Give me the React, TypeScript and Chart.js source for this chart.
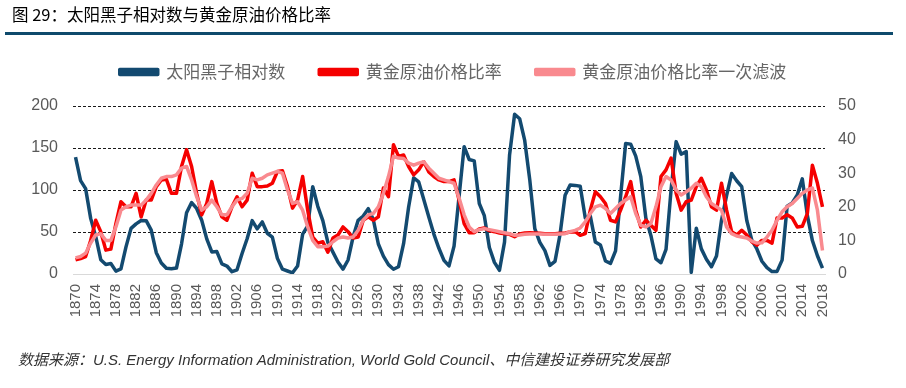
import React, { useEffect, useRef } from 'react';
import { Chart, registerables } from 'chart.js';

Chart.register(...registerables);

const firstYear = 1870;
const lastYear = 2018;
const years: string[] = [];
for (let y = firstYear; y <= lastYear; y++) years.push(String(y));

// 太阳黑子相对数 (left axis)
const sunspots = [
  139.1, 111.2, 101.6, 66.2, 44.7, 17.0, 11.3, 12.4, 3.4, 6.0,
  32.3, 54.3, 59.7, 63.7, 63.5, 52.2, 25.4, 13.1, 6.8, 6.3,
  7.1, 35.6, 73.0, 85.1, 78.0, 64.0, 41.8, 26.2, 26.7, 12.1,
  9.5, 2.7, 5.0, 24.4, 42.0, 63.5, 53.8, 62.0, 48.5, 43.9,
  18.6, 5.7, 3.6, 1.4, 9.6, 47.4, 57.1, 103.9, 80.6, 63.6,
  37.6, 26.1, 14.2, 5.8, 16.7, 44.3, 63.9, 69.0, 77.8, 64.9,
  35.7, 21.2, 11.1, 5.7, 8.7, 36.1, 79.7, 114.4, 109.6, 88.8,
  67.8, 47.5, 30.6, 16.3, 9.6, 33.2, 92.6, 151.6, 136.3, 134.7,
  83.9, 69.4, 31.5, 13.9, 4.4, 38.0, 141.7, 190.2, 184.8, 159.0,
  112.3, 53.9, 37.6, 27.9, 10.2, 15.1, 47.0, 93.8, 105.9, 105.5,
  104.5, 66.6, 68.9, 38.0, 34.5, 15.5, 12.6, 27.5, 92.5, 155.4,
  154.6, 140.4, 115.9, 66.6, 45.9, 17.9, 13.4, 29.4, 100.2, 157.6,
  142.6, 145.7, 2, 54.6, 29.9, 17.5, 8.6, 21.5, 64.3, 93.3,
  119.6, 111.0, 104.0, 63.7, 40.4, 29.8, 15.2, 7.5, 2.9, 3.1,
  16.5, 80.8, 84.5, 94.0, 113.3, 69.8, 39.8, 21.7, 7.0,
];

// 黄金原油价格比率 (right axis)
const goldOilRatio = [
  4.2, 4.6, 5.2, 10, 16, 12.6, 7.1, 7.4, 15, 21.5,
  20, 20, 24, 17, 22, 22, 26, 28, 28.2, 24,
  24, 32, 37, 32, 24, 17.6, 21, 27.5, 21, 17,
  16, 20, 23, 20, 22, 30, 26, 26, 26.2, 27,
  30.5, 30.7, 26, 19.6, 22, 29, 19, 11, 9.2, 9.6,
  6.5, 10.7, 11.6, 14, 12.6, 10.7, 11, 16, 17, 16,
  17, 25.6, 23, 38.5, 35, 35.4, 32, 29.5, 31, 33.4,
  30.4, 29, 28, 27.5, 27.5, 28, 22, 15, 12.3, 12.3,
  13.4, 13.7, 12.9, 12.6, 12.2, 12, 11.8, 11.1, 11.9, 12.2,
  12.3, 12.2, 12.1, 12, 12, 12, 12.1, 12.2, 12.5, 12.6,
  11.5, 12, 19, 24.5, 23, 21, 16, 15.5, 19, 23,
  27.5, 19, 14, 16, 14.5, 13, 29, 31, 34.5, 24,
  19, 21.5, 22, 26, 28.5, 25, 20, 19, 27, 19,
  12.6, 11.6, 13, 11.6, 9.6, 8.6, 10, 10, 9.2, 16.7,
  16.7, 17.6, 16.7, 14, 14.2, 18, 32.4, 27, 20,
];

// 黄金原油价格比率一次滤波 (right axis)
const goldOilRatioFiltered = [
  4.8, 5.2, 6.2, 9.2, 11.6, 12, 10, 10, 14, 19,
  20, 20.5, 20.5, 20.5, 22, 24, 26.5, 28.5, 29, 29,
  29.5, 31.5, 32, 28, 23, 19, 20, 22, 20, 17.6,
  17.6, 20, 22, 22.5, 24, 28.5, 28, 28.5, 29.5, 30,
  30.5, 30, 25, 21, 21.5, 19, 14, 10, 8.1, 8.1,
  8.3, 9.6, 10.7, 11, 10.7, 11, 13, 16, 17.6, 18,
  20, 24, 29, 35, 34.5, 34.4, 33, 32.4, 33, 33.4,
  31.5, 30, 28.5, 28, 27.5, 27, 22.6, 17.6, 14, 12.6,
  13.2, 13.5, 13.2, 12.9, 12.6, 12.3, 12, 11.5, 11.6, 11.8,
  11.9, 11.9, 11.9, 11.8, 11.8, 11.8, 11.9, 12, 12.6, 13,
  13.7, 15.5, 18, 20, 20.5, 19.5, 18, 19.5, 21, 22,
  23, 18, 14.5, 14, 15, 20, 26, 29, 28, 25,
  23.5, 24.5, 25.5, 27, 26, 23, 21, 20, 19, 14,
  12, 11.3, 11, 10.7, 9.8, 9.2, 9.3, 11, 13, 16,
  18.5, 20, 21, 22.5, 24, 25, 25.6, 19, 7,
];

const seriesNames = ['太阳黑子相对数', '黄金原油价格比率', '黄金原油价格比率一次滤波'];
const leftAxis = { min: 0, max: 200, step: 50 };
const rightAxis = { min: 0, max: 50, step: 10 };
const xLabelEvery = 4;

const BLUE = '#134a70';
const RED = '#f50000';
const PINK = '#f98a8f';
const GRAY_TEXT = '#595959';

export default function App() {
  const canvasRef = useRef<HTMLCanvasElement>(null);

  useEffect(() => {
    const canvas = canvasRef.current;
    if (!canvas) return;
    const chart = new Chart(canvas, {
      type: 'line',
      data: {
        labels: years,
        datasets: [
          {
            label: seriesNames[0],
            data: sunspots,
            yAxisID: 'y',
            borderColor: BLUE,
            backgroundColor: BLUE,
            borderWidth: 3.5,
            pointRadius: 0,
            tension: 0,
            borderJoinStyle: 'round',
            order: 3,
          },
          {
            label: seriesNames[1],
            data: goldOilRatio,
            yAxisID: 'y1',
            borderColor: RED,
            backgroundColor: RED,
            borderWidth: 3.5,
            pointRadius: 0,
            tension: 0,
            borderJoinStyle: 'round',
            order: 2,
          },
          {
            label: seriesNames[2],
            data: goldOilRatioFiltered,
            yAxisID: 'y1',
            borderColor: PINK,
            backgroundColor: PINK,
            borderWidth: 3.5,
            pointRadius: 0,
            tension: 0,
            borderJoinStyle: 'round',
            order: 1,
          },
        ],
      },
      options: {
        responsive: false,
        animation: false,
        events: [],
        layout: { padding: { top: 29.5, left: 0, right: 0, bottom: 0 } },
        plugins: {
          legend: {
            position: 'top',
            labels: {
              boxWidth: 38,
              boxHeight: 5,
              padding: 34,
              color: '#666666',
              font: { family: '"Noto Sans CJK SC", "Noto Sans", sans-serif', size: 17 },
              sort: (a: any, b: any) => a.datasetIndex - b.datasetIndex,
            },
          },
          tooltip: { enabled: false },
        },
        scales: {
          x: {
            type: 'category',
            offset: true,
            grid: { display: false, drawTicks: false },
            border: { display: true, color: '#d9d9d9', width: 1 },
            ticks: {
              autoSkip: false,
              maxRotation: 90,
              minRotation: 90,
              padding: 10,
              color: GRAY_TEXT,
              font: { family: '"Liberation Sans", Arial, sans-serif', size: 15 },
              callback: (_v: any, i: number) => (i % xLabelEvery === 0 ? years[i] : ''),
            },
            afterFit: (s: any) => {
              s.height = 114;
            },
          },
          xTop: {
            type: 'category',
            position: 'top',
            display: true,
            grid: { display: false, drawTicks: false },
            border: { display: false },
            ticks: { display: false },
            afterFit: (s: any) => {
              s.height = 15.5;
            },
          },
          y: {
            type: 'linear',
            position: 'left',
            min: leftAxis.min,
            max: leftAxis.max,
            ticks: {
              stepSize: leftAxis.step,
              padding: 15,
              color: GRAY_TEXT,
              font: { family: '"Liberation Sans", Arial, sans-serif', size: 16 },
            },
            grid: {
              drawTicks: false,
              lineWidth: 1,
              color: (ctx: any) => (ctx.tick && ctx.tick.value === 0 ? 'rgba(0,0,0,0)' : '#1a1a1a'),
            },
            border: { display: false, dash: [3, 2] },
            afterFit: (s: any) => {
              s.width = 73;
            },
          },
          y1: {
            type: 'linear',
            position: 'right',
            min: rightAxis.min,
            max: rightAxis.max,
            ticks: {
              stepSize: rightAxis.step,
              padding: 13,
              color: GRAY_TEXT,
              font: { family: '"Liberation Sans", Arial, sans-serif', size: 16 },
            },
            grid: { display: false, drawTicks: false },
            border: { display: false },
            afterFit: (s: any) => {
              s.width = 81;
            },
          },
        },
      } as any,
    });
    return () => chart.destroy();
  }, []);

  return (
    <div
      style={{
        position: 'absolute',
        left: 0,
        top: 0,
        width: 906,
        height: 388,
        background: '#ffffff',
        overflow: 'hidden',
      }}
    >
      <canvas
        ref={canvasRef}
        width={906}
        height={388}
        style={{ position: 'absolute', left: 0, top: 0, width: 906, height: 388 }}
      />
      <div
        style={{
          position: 'absolute',
          left: 12,
          top: 3,
          fontFamily: '"Noto Sans CJK SC", sans-serif',
          fontSize: 16.5,
          lineHeight: '22px',
          color: '#000000',
          whiteSpace: 'nowrap',
        }}
      >
        图 29：太阳黑子相对数与黄金原油价格比率
      </div>
      <div
        style={{
          position: 'absolute',
          left: 5,
          top: 32,
          width: 888,
          height: 3,
          background: '#0e4a6c',
        }}
      />
      <div
        style={{
          position: 'absolute',
          left: 18,
          top: 350,
          fontFamily: '"Liberation Sans", "Noto Sans CJK SC", sans-serif',
          fontStyle: 'italic',
          fontSize: 15,
          lineHeight: '20px',
          color: '#333333',
          whiteSpace: 'nowrap',
        }}
      >
        数据来源：U.S. Energy Information Administration, World Gold Council、中信建投证券研究发展部
      </div>
    </div>
  );
}
